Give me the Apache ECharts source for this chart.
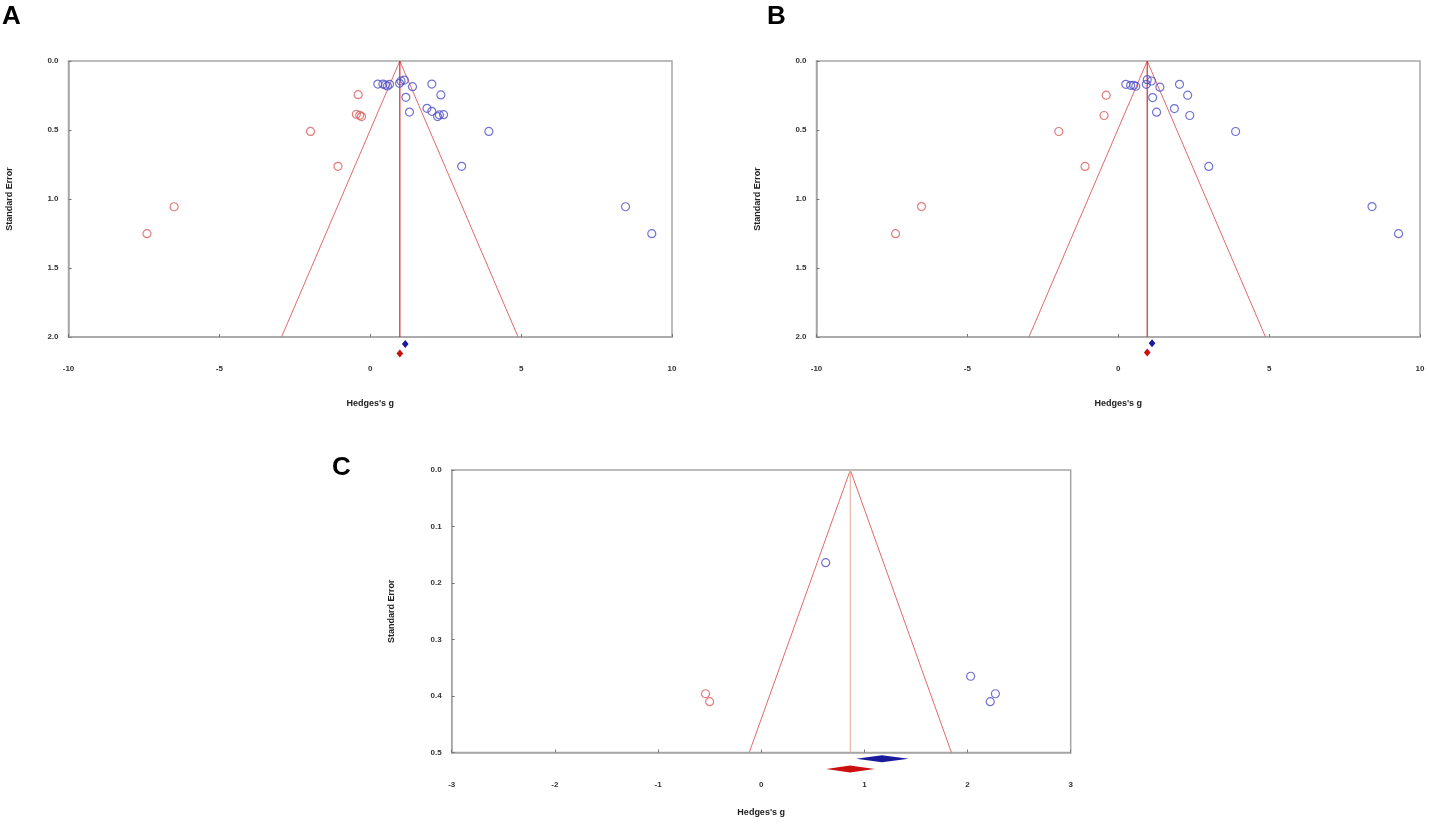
<!DOCTYPE html>
<html>
<head>
<meta charset="utf-8">
<title>Funnel plots</title>
<script src="https://cdn.jsdelivr.net/npm/echarts@6/dist/echarts.min.js"></script>
<style>
  html, body { margin: 0; padding: 0; background: #fff; }
  #chart { width: 1429px; height: 828px; }
</style>
</head>
<body>
<div id="chart"></div>
<script>
// Panel A: observed studies (blue) and imputed studies (red)
const gA_obs = [0.25, 0.42, 0.50, 0.57, 0.64, 0.97, 1.02, 1.13, 1.40, 2.04, 2.34, 1.18, 1.30, 1.88, 2.04, 2.23, 2.29, 2.43, 3.93, 3.03, 8.46, 9.33];
const seA_obs = [0.167, 0.167, 0.174, 0.181, 0.169, 0.162, 0.145, 0.138, 0.186, 0.167, 0.246, 0.263, 0.370, 0.343, 0.365, 0.403, 0.391, 0.389, 0.510, 0.763, 1.056, 1.251];
const gA_imp = [-0.40, -0.46, -0.35, -0.29, -1.98, -1.07, -6.50, -7.40];
const seA_imp = [0.244, 0.386, 0.394, 0.403, 0.510, 0.763, 1.056, 1.251];

// Panel B
const gB_obs = [0.25, 0.41, 0.51, 0.58, 0.93, 0.96, 1.10, 1.38, 2.03, 2.30, 1.14, 1.27, 1.86, 2.37, 3.89, 3.00, 8.41, 9.29];
const seB_obs = [0.169, 0.176, 0.176, 0.183, 0.169, 0.135, 0.145, 0.190, 0.169, 0.248, 0.265, 0.371, 0.345, 0.395, 0.511, 0.764, 1.055, 1.251];
const gB_imp = [-0.40, -0.47, -1.97, -1.10, -6.52, -7.38];
const seB_imp = [0.248, 0.395, 0.511, 0.764, 1.055, 1.251];

// Panel C
const gC_obs = [0.625, 2.03, 2.27, 2.22];
const seC_obs = [0.164, 0.365, 0.396, 0.410];
const gC_imp = [-0.54, -0.50];
const seC_imp = [0.396, 0.410];

// pooled estimates [lower, point, upper, row position under the axis]
const pooledA_obs = [1.05, 1.16, 1.27, 2.05];
const pooledA_adj = [0.87, 0.98, 1.09, 2.12];
const pooledB_obs = [1.01, 1.12, 1.23, 2.046];
const pooledB_adj = [0.85, 0.96, 1.07, 2.113];
const pooledC_obs = [0.92, 1.17, 1.43, 0.511];
const pooledC_adj = [0.63, 0.86, 1.10, 0.529];

// funnel: centre and max standard error
const funnelA = [0.98, 2.0];
const funnelB = [0.96, 2.0];
const funnelC = [0.864, 0.5];

const xTicksAB = [-10, 10, 5];
const yTicksAB = [0, 2.0, 0.5];
const xTicksC = [-3, 3, 1];
const yTicksC = [0, 0.5, 0.1];

const BLUE = '#4f4fc8';
const RED = '#dc5a5a';
const GRID_GRAY = '#a6a6a6';
const FONT = 'Liberation Sans, Arial, sans-serif';

function pairs(xs, ys) {
  return xs.map((x, i) => [x, ys[i]]);
}

function funnelData(f) {
  const c = f[0], se = f[1];
  return [[c - 1.96 * se, se], [c, 0], [c + 1.96 * se, se]];
}

function axisX(idx, t) {
  return {
    type: 'value', gridIndex: idx, min: t[0], max: t[1], interval: t[2],
    name: "Hedges's g", nameLocation: 'middle', nameGap: idx === 2 ? 56 : 62,
    nameTextStyle: { fontFamily: FONT, fontWeight: 'bold', fontSize: 9, color: '#222' },
    axisLine: { show: true, onZero: false, lineStyle: { color: GRID_GRAY, width: 1.5 } },
    axisTick: { show: true, inside: true, length: 3, lineStyle: { color: '#777' } },
    axisLabel: { margin: 28, fontFamily: FONT, fontWeight: 'bold', fontSize: 8, color: '#333' },
    splitLine: { show: false }
  };
}

function axisY(idx, t) {
  return {
    type: 'value', gridIndex: idx, min: t[0], max: t[1], interval: t[2], inverse: true,
    name: 'Standard Error', nameLocation: 'middle', nameGap: idx === 2 ? 56 : 54, nameRotate: 90,
    nameTextStyle: { fontFamily: FONT, fontWeight: 'bold', fontSize: 9, color: '#222' },
    axisLine: { show: true, onZero: false, lineStyle: { color: GRID_GRAY, width: 1.5 } },
    axisTick: { show: true, inside: true, length: 3, lineStyle: { color: '#777' } },
    axisLabel: {
      margin: 10, fontFamily: FONT, fontWeight: 'bold', fontSize: 8, color: '#333',
      formatter: v => v.toFixed(1)
    },
    splitLine: { show: false }
  };
}

function circles(idx, data, color) {
  return {
    type: 'scatter', xAxisIndex: idx, yAxisIndex: idx, data: data,
    symbol: 'circle', symbolSize: 8, z: 5,
    itemStyle: { color: 'rgba(0,0,0,0)', borderColor: color, borderWidth: 1.2 },
    silent: true
  };
}

function funnelLines(idx, f) {
  return {
    type: 'line', xAxisIndex: idx, yAxisIndex: idx, data: funnelData(f),
    symbol: 'none', z: 3, silent: true,
    lineStyle: { color: '#e06a6a', width: 1 }
  };
}

function centreLine(idx, f, color) {
  return {
    type: 'line', xAxisIndex: idx, yAxisIndex: idx, data: [[f[0], 0], [f[0], f[1]]],
    symbol: 'none', z: 3, silent: true,
    lineStyle: { color: color, width: 1.2 }
  };
}

function diamond(idx, d, color, halfH) {
  return {
    type: 'custom', xAxisIndex: idx, yAxisIndex: idx, data: [d], clip: false, z: 6, silent: true,
    renderItem: function (params, api) {
      const lo = api.coord([api.value(0), api.value(3)]);
      const mid = api.coord([api.value(1), api.value(3)]);
      const hi = api.coord([api.value(2), api.value(3)]);
      return {
        type: 'polygon',
        shape: { points: [[lo[0], mid[1]], [mid[0], mid[1] - halfH], [hi[0], mid[1]], [mid[0], mid[1] + halfH]] },
        style: { fill: color }
      };
    }
  };
}

const chart = echarts.init(document.getElementById('chart'));

const option = {
  backgroundColor: '#fff',
  animation: false,
  graphic: [
    { type: 'text', left: 2, top: 4, style: { text: 'A', font: 'bold 26px ' + FONT, fill: '#000' } },
    { type: 'text', left: 767, top: 4, style: { text: 'B', font: 'bold 26px ' + FONT, fill: '#000' } },
    { type: 'text', left: 332, top: 455, style: { text: 'C', font: 'bold 26px ' + FONT, fill: '#000' } }
  ],
  grid: [
    { left: 68.5, top: 61, width: 603.5, height: 276, show: true, borderColor: GRID_GRAY, borderWidth: 1.5 },
    { left: 816.5, top: 61, width: 603.5, height: 276, show: true, borderColor: GRID_GRAY, borderWidth: 1.5 },
    { left: 451.7, top: 470, width: 619, height: 282.5, show: true, borderColor: GRID_GRAY, borderWidth: 1.5 }
  ],
  xAxis: [axisX(0, xTicksAB), axisX(1, xTicksAB), axisX(2, xTicksC)],
  yAxis: [axisY(0, yTicksAB), axisY(1, yTicksAB), axisY(2, yTicksC)],
  series: [
    funnelLines(0, funnelA),
    centreLine(0, funnelA, '#d42a2a'),
    circles(0, pairs(gA_obs, seA_obs), BLUE),
    circles(0, pairs(gA_imp, seA_imp), RED),
    diamond(0, pooledA_obs, '#1a1a9a', 4),
    diamond(0, pooledA_adj, '#cc1010', 4),

    funnelLines(1, funnelB),
    centreLine(1, funnelB, '#d42a2a'),
    circles(1, pairs(gB_obs, seB_obs), BLUE),
    circles(1, pairs(gB_imp, seB_imp), RED),
    diamond(1, pooledB_obs, '#1a1a9a', 4),
    diamond(1, pooledB_adj, '#cc1010', 4),

    funnelLines(2, funnelC),
    centreLine(2, funnelC, '#e8b8a6'),
    circles(2, pairs(gC_obs, seC_obs), BLUE),
    circles(2, pairs(gC_imp, seC_imp), RED),
    diamond(2, pooledC_obs, '#1a1a9a', 3.5),
    diamond(2, pooledC_adj, '#cc1010', 3.5)
  ]
};

chart.setOption(option);
</script>
</body>
</html>
